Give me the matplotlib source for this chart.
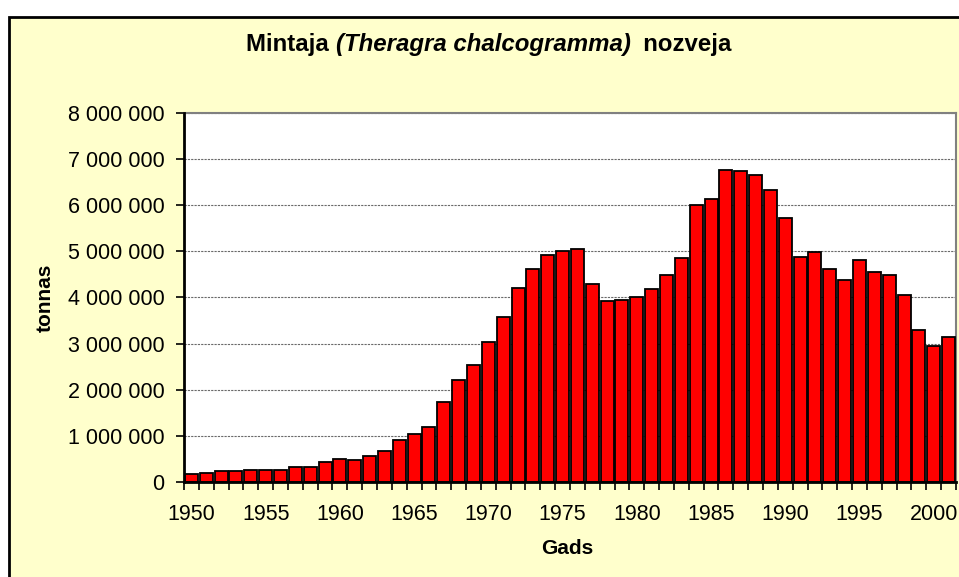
#Pollock catch bar chart, recreated
import matplotlib
matplotlib.use("Agg")
import matplotlib.pyplot as plt
import matplotlib.patches as mpatches
from matplotlib.ticker import FuncFormatter, FixedLocator
import numpy as np

plt.rcParams['font.family'] = ['Liberation Sans', 'DejaVu Sans']

#Data
years = list(range(1950, 2002))
catch = [166000, 195000, 238000, 238000, 267000, 267000, 267000, 332000, 332000, 434000,
         499000, 470000, 564000, 672000, 903000, 1040000, 1199000, 1741000, 2204000, 2543000,
         3042000, 3577000, 4212000, 4610000, 4920000, 5014000, 5043000, 4285000, 3916000, 3952000,
         4010000, 4184000, 4487000, 4848000, 5990000, 6127000, 6756000, 6727000, 6655000, 6329000,
         5723000, 4884000, 4986000, 4617000, 4386000, 4819000, 4552000, 4487000, 4046000, 3288000,
         2941000, 3143000]
y_ticks = [0, 1000000, 2000000, 3000000, 4000000, 5000000, 6000000, 7000000, 8000000]
label_years = [1950, 1955, 1960, 1965, 1970, 1975, 1980, 1985, 1990, 1995, 2000]

W, H = 959, 577
fig = plt.figure(figsize=(W/100, H/100), dpi=100)
fig.patch.set_facecolor('white')

#yellow chart area with black frame (runs off the right and bottom edge)
bg = mpatches.Rectangle((9/W, -0.1), 1.2, (H-17)/H + 0.1, transform=fig.transFigure,
                        facecolor='#FFFFCC', edgecolor='black', linewidth=2, zorder=-10)
fig.patches.append(bg)

ax = fig.add_axes([184/W, 1-482/H, (956-184)/W, (482-112.7)/H])
ax.set_facecolor('white')

x = np.arange(len(years))
ax.bar(x, catch, width=0.88, color='#FF0000', edgecolor='black', linewidth=1.3, zorder=3)

ax.set_xlim(-0.5, len(years)-0.5)
ax.set_ylim(0, 8000000)

#y axis
ax.set_yticks(y_ticks)
ax.yaxis.set_major_formatter(FuncFormatter(lambda v, p: '{:,.0f}'.format(v).replace(',', ' ')))
ax.tick_params(axis='y', length=6, width=1.2, pad=8, labelsize=15.5, color='black')
ax.grid(axis='y', color='#6a6a6a', linestyle=(0, (2, 1)), linewidth=0.8, zorder=1)

#x axis: labels every 5 years, ticks between bars
ax.xaxis.set_major_locator(FixedLocator([years.index(y) for y in label_years]))
ax.set_xticklabels([str(y) for y in label_years])
ax.xaxis.set_minor_locator(FixedLocator(np.arange(-0.5, len(years), 1)))
ax.tick_params(axis='x', which='major', length=0, pad=16, labelsize=15.5)
ax.tick_params(axis='x', which='minor', length=6, width=1.2, color='black')

for s in ['top', 'right']:
    ax.spines[s].set_color('#808080')
    ax.spines[s].set_linewidth(1.5)
for s in ['left', 'bottom']:
    ax.spines[s].set_color('black')
    ax.spines[s].set_linewidth(2)
    ax.spines[s].set_zorder(5)

ax.set_ylabel('tonnas', fontsize=15, fontweight='bold', va='center')
ax.yaxis.set_label_coords((45-184)/(956-184), 0.5)
ax.set_xlabel('Gads', fontsize=15, fontweight='bold', va='center')
ax.xaxis.set_label_coords(0.497, (482-549)/369.3)

#title with italic latin name
parts = [('Mintaja ', 'normal'), ('(Theragra chalcogramma)', 'italic'), ('  nozveja', 'normal')]
ty = 1 - 45/H
texts = [fig.text(0, ty, t, fontsize=17.3, fontweight='bold', style=st, ha='left', va='center')
         for t, st in parts]
fig.canvas.draw()
r = fig.canvas.get_renderer()
widths = [t.get_window_extent(r).width for t in texts]
xpos = 489 - sum(widths)/2
for t, w in zip(texts, widths):
    t.set_x(xpos/W)
    xpos += w

fig.savefig('out.png', dpi=100, facecolor='white')
